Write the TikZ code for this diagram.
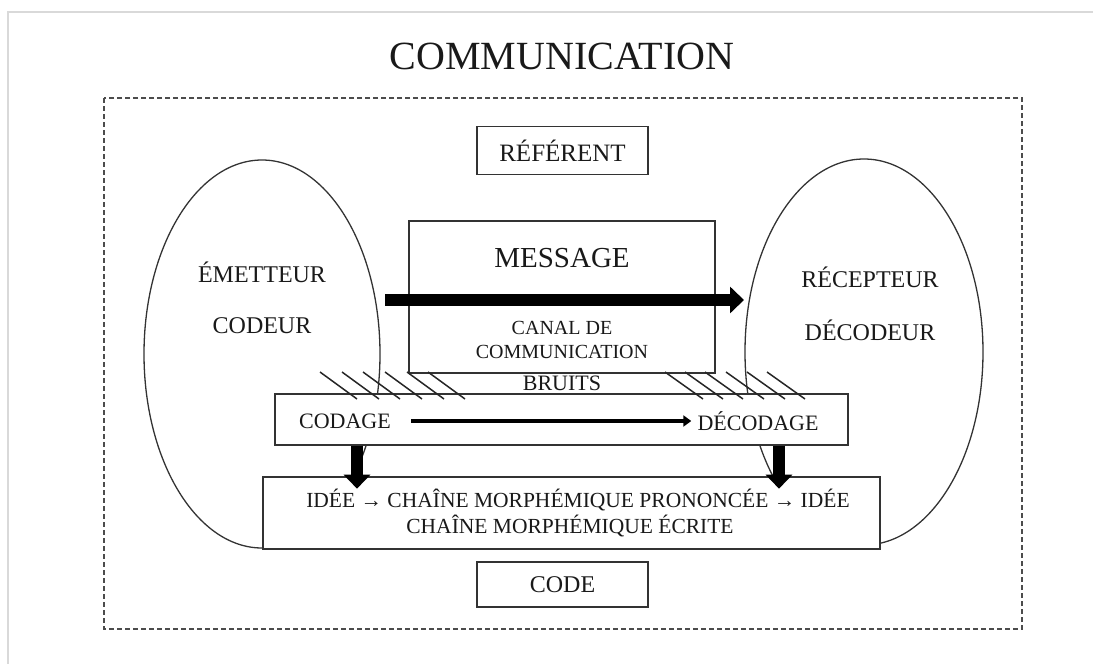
\documentclass[tikz,border=0pt]{standalone}
\usepackage{fontspec}
\setmainfont{Liberation Serif}
\usetikzlibrary{arrows.meta}

\begin{document}
\begin{tikzpicture}[x = 1pt, y = -1pt,
  box/.style = {draw = black!80, line width = 1.4pt, fill = white, inner sep = 0pt},
  lbl/.style = {text = black!90, inner sep = 0pt, font = \fontsize{22}{24}\selectfont},
  grosse/.style = {line width = 12pt, -{Triangle[length = 14pt, width = 26pt]}}]
\useasboundingbox (0,0) rectangle (1093,664);
\draw[black!15, line width = 1.5pt] (8,664) -- (8,12) -- (1093,12);
\node[lbl, font = \fontsize{40}{44}\selectfont] (titre) at (562,56) {COMMUNICATION};
\draw[dashed, dash pattern = on 5pt off 3pt, line width = 1.6pt, black!70] (104,98) rectangle (1022,629);

% les deux ovales
\draw[black!80, line width = 1.3pt] (262,354) ellipse [x radius = 118, y radius = 194];
\draw[black!80, line width = 1.3pt] (864,352) ellipse [x radius = 119, y radius = 193];

% les cadres
\node[box, minimum width = 171, minimum height = 48] (referent) at (562.5,150.5) {};
\node[box, minimum width = 306, minimum height = 152] (message) at (562,297) {};
\node[box, minimum width = 573, minimum height = 51] (codagebox) at (561.5,419.5) {};
\node[box, minimum width = 617, minimum height = 72] (ideebox) at (571.5,513) {};
\node[box, minimum width = 171, minimum height = 45] (code) at (562.5,584.5) {};

% bruits
\foreach \x in {320,342,363,385,407,428}
  \draw[black!85, line width = 1.5pt] (\x,372) -- ++(37,27);
\foreach \x in {665,685,705,726,747,767}
  \draw[black!85, line width = 1.5pt] (\x,372) -- ++(38,27);

% textes
\node[lbl, font = \fontsize{25}{27}\selectfont] at (referent) {RÉFÉRENT};
\node[lbl, font = \fontsize{24}{26}\selectfont] (emetteur) at (262,272) {ÉMETTEUR};
\node[lbl, font = \fontsize{24}{26}\selectfont] (codeur) at (262,326) {CODEUR};
\node[lbl, font = \fontsize{24}{26}\selectfont] (recepteur) at (870,277) {RÉCEPTEUR};
\node[lbl, font = \fontsize{24}{26}\selectfont] (decodeur) at (870,330) {DÉCODEUR};
\node[lbl, font = \fontsize{29}{31}\selectfont] (msg) at (562,258) {MESSAGE};
\node[lbl, font = \fontsize{20}{22}\selectfont] (canal) at (562,328) {CANAL DE};
\node[lbl, font = \fontsize{20}{22}\selectfont] (comm) at (562,352) {COMMUNICATION};
\node[lbl, font = \fontsize{22}{24}\selectfont] (bruits) at (562,383) {BRUITS};
\node[lbl] (codage) at (345,421) {CODAGE};
\node[lbl] (decodage) at (758,421) {DÉCODAGE};
\node[lbl, font = \fontsize{21.5}{23}\selectfont] (ligne1) at (578,500) {IDÉE → CHAÎNE MORPHÉMIQUE PRONONCÉE → IDÉE};
\node[lbl, font = \fontsize{21.5}{23}\selectfont] (ligne2) at (570,526) {CHAÎNE MORPHÉMIQUE ÉCRITE};
\node[lbl, font = \fontsize{24}{26}\selectfont] at (code) {CODE};

% fleches
\coordinate (depart) at (385,300);
\coordinate (arrivee) at (744,300);
\draw[grosse] (depart) -- (arrivee);
\draw[line width = 3.5pt, -{Triangle[length = 8pt, width = 11pt]}, shorten <= 20pt, shorten >= 6pt] (codage) -- (decodage);
\draw[grosse] (codagebox.south -| 357,0) -- ++(0,43);
\draw[grosse] (codagebox.south -| 779,0) -- ++(0,43);

\end{tikzpicture}
\end{document}
